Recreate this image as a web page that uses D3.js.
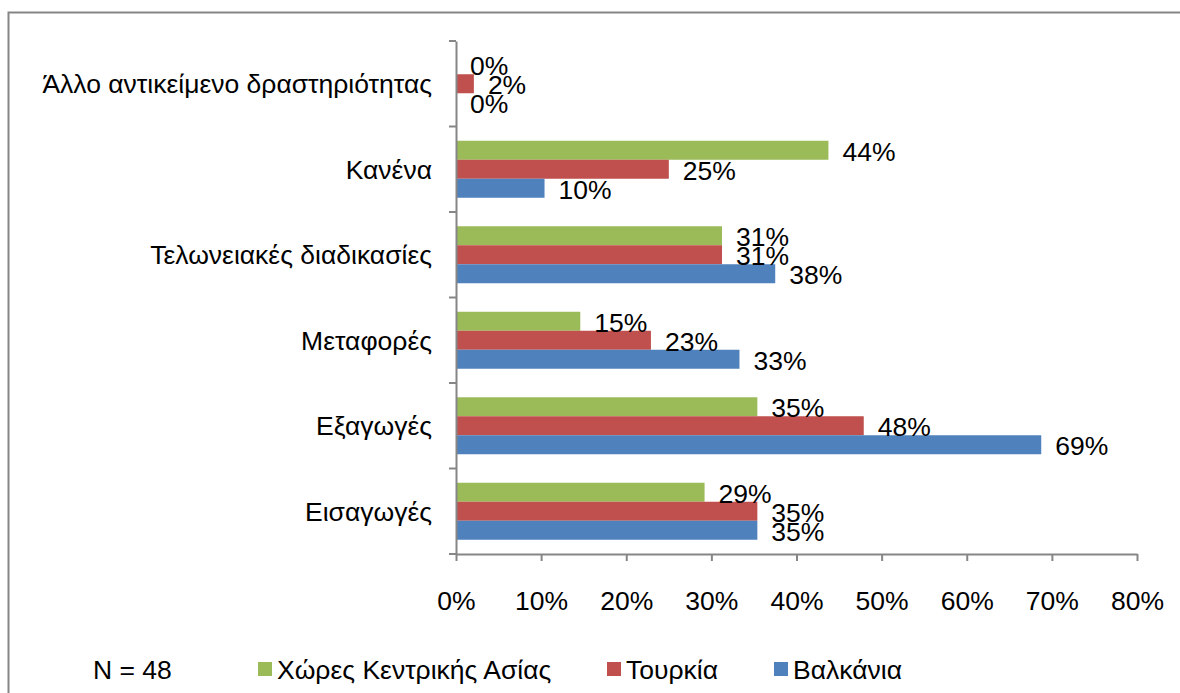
<!DOCTYPE html>
<html>
<head>
<meta charset="utf-8">
<script src="https://cdn.jsdelivr.net/npm/d3@7"></script>
<style>
  body { margin: 0; background: #fff; }
  text { font-family: "Liberation Sans", Arial, sans-serif; fill: #000; }
</style>
</head>
<body>
<div id="chart"></div>
<script>
// Data (percent of respondents, N = 48)
const categories = ["Άλλο αντικείμενο δραστηριότητας", "Κανένα", "Τελωνειακές διαδικασίες", "Μεταφορές", "Εξαγωγές", "Εισαγωγές"];
const seriesNames = ["Χώρες Κεντρικής Ασίας", "Τουρκία", "Βαλκάνια"];
const centralAsia = [0, 43.75, 31.25, 14.6, 35.4, 29.2];
const turkey = [2.1, 25, 31.25, 22.9, 47.9, 35.4];
const balkans = [0, 10.4, 37.5, 33.3, 68.75, 35.4];
const xTicks = [0, 10, 20, 30, 40, 50, 60, 70, 80];
const colors = ["#9BBB59", "#C0504D", "#4F81BD"];
const noteText = "N = 48";

const seriesValues = [centralAsia, turkey, balkans];

const W = 1180, H = 693;
const plot = { left: 456, right: 1137, top: 41, bottom: 554 };
const axisColor = "#868686";
const fontSize = 26.5;

const svg = d3.select("#chart").append("svg")
    .attr("width", W)
    .attr("height", H);

// outer chart frame (runs off the right and bottom of the picture)
svg.append("rect")
    .attr("x", 8.5)
    .attr("y", 12.5)
    .attr("width", 1300)
    .attr("height", 800)
    .attr("fill", "none")
    .attr("stroke", axisColor)
    .attr("stroke-width", 2);

// scales
const x = d3.scaleLinear()
    .domain([0, 80])
    .range([plot.left, plot.right]);

const y = d3.scaleBand()
    .domain(categories)
    .range([plot.top, plot.bottom])
    .padding(0);

// gap width 50% -> group takes step / 1.5
const groupH = y.step() / 1.5;
const y1 = d3.scaleBand()
    .domain(seriesNames)
    .range([(y.step() - groupH) / 2, (y.step() + groupH) / 2]);

// bars
const groups = svg.append("g").selectAll("g")
    .data(categories)
  .enter().append("g")
    .attr("transform", d => "translate(0," + y(d) + ")");

groups.selectAll("rect")
    .data((d, i) => seriesNames.map((s, j) => ({ series: s, value: seriesValues[j][i], color: colors[j] })))
  .enter().append("rect")
    .attr("x", x(0))
    .attr("y", d => y1(d.series))
    .attr("width", d => x(d.value) - x(0))
    .attr("height", y1.bandwidth())
    .attr("fill", d => d.color);

// data labels
groups.selectAll("text")
    .data((d, i) => seriesNames.map((s, j) => ({ series: s, value: seriesValues[j][i] })))
  .enter().append("text")
    .attr("x", d => x(d.value) + 14)
    .attr("y", d => y1(d.series) + y1.bandwidth() / 2 + 1)
    .attr("dy", "0.36em")
    .attr("font-size", fontSize)
    .text(d => Math.round(d.value) + "%");

// x axis
const xAxis = svg.append("g")
    .attr("transform", "translate(0," + plot.bottom + ")")
    .call(d3.axisBottom(x).tickValues(xTicks).tickFormat(d => d + "%").tickSize(7).tickSizeOuter(0));

xAxis.select(".domain").attr("stroke", axisColor).attr("stroke-width", 2);
xAxis.selectAll(".tick line").attr("stroke", axisColor).attr("stroke-width", 2);
xAxis.selectAll(".tick text")
    .attr("y", 46)
    .attr("dy", "0.36em")
    .attr("font-size", fontSize)
    .attr("font-family", null);

// y axis: line plus tick marks at the category boundaries
const yAxis = svg.append("g")
    .attr("transform", "translate(" + plot.left + ",0)")
    .call(d3.axisLeft(y).tickSize(0).tickPadding(24));

yAxis.select(".domain").attr("stroke", axisColor).attr("stroke-width", 2);
yAxis.selectAll(".tick text")
    .attr("dy", "0.36em")
    .attr("font-size", fontSize)
    .attr("font-family", null);

const boundaries = categories.map(c => y(c)).concat([y(categories[categories.length - 1]) + y.step()]);
yAxis.selectAll(".bound")
    .data(boundaries)
  .enter().append("line")
    .attr("class", "bound")
    .attr("x1", -7)
    .attr("x2", 0)
    .attr("y1", d => d)
    .attr("y2", d => d)
    .attr("stroke", axisColor)
    .attr("stroke-width", 2);

// legend
const legendY = 669;
svg.append("text")
    .attr("x", 93)
    .attr("y", legendY)
    .attr("dy", "0.36em")
    .attr("font-size", fontSize)
    .text(noteText);

const legendX = [258, 607, 774];
const legend = svg.append("g").selectAll("g")
    .data(seriesNames)
  .enter().append("g")
    .attr("transform", (d, i) => "translate(" + legendX[i] + "," + legendY + ")");

legend.append("rect")
    .attr("x", 0)
    .attr("y", -7)
    .attr("width", 14)
    .attr("height", 14)
    .attr("fill", (d, i) => colors[i]);

legend.append("text")
    .attr("x", 19)
    .attr("y", 0)
    .attr("dy", "0.36em")
    .attr("font-size", fontSize)
    .text(d => d);
</script>
</body>
</html>
